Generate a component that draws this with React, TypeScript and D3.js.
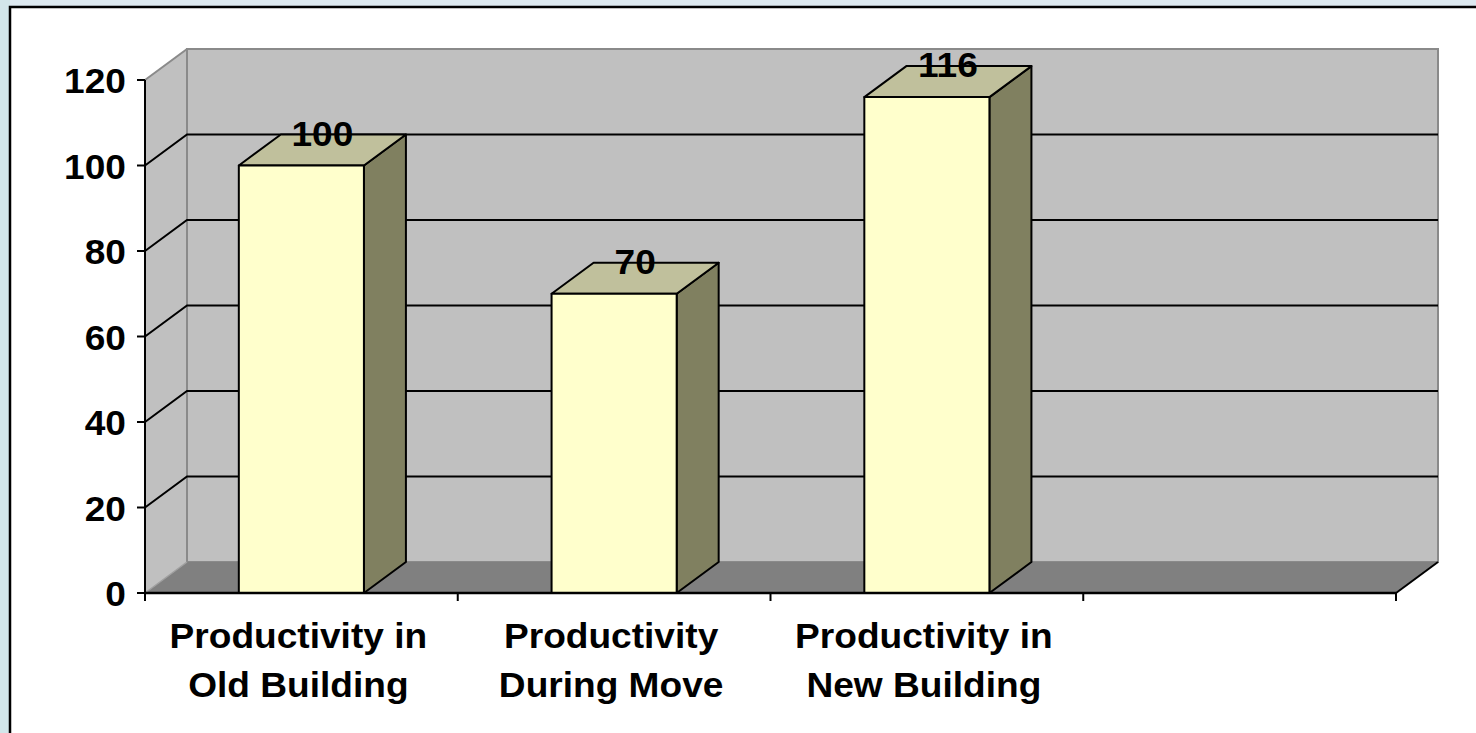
import * as d3 from 'd3';

const categories = ['Productivity in\nOld Building', 'Productivity\nDuring Move', 'Productivity in\nNew Building', ''];
const values = [100, 70, 116];
const yTicks = [0, 20, 40, 60, 80, 100, 120];

const W = 1476;
const H = 733;
const plot = { left: 145, right: 1396, top: 80, bottom: 593 };
const depth = { dx: 42, dy: -31 };
const font = '"Liberation Sans", Arial, sans-serif';
const fontSize = 35;
const stretch = 1.06; // text in the original is drawn a little wide

const colors = {
  page: '#dde9f0',
  strip: '#d2e6ea',
  wall: '#c0c0c0',
  wallEdge: '#8a8a8a',
  floor: '#808080',
  front: '#ffffcc',
  top: '#c0c09c',
  side: '#808060',
};

const pts = (p: [number, number][]) => p.map((d) => d.join(',')).join(' ');

export default function App() {
  const x = d3.scaleBand<string>().domain(categories.map((c, i) => `${i}`)).range([plot.left, plot.right]);
  const y = d3.scaleLinear().domain([0, 120]).range([plot.bottom, plot.top]);
  const { dx, dy } = depth;
  const barW = x.bandwidth() * 0.4;

  return (
    <div style={{ position: 'fixed', left: 0, top: 0 }}>
      <svg width={W} height={H} viewBox={`0 0 ${W} ${H}`} style={{ display: 'block' }}>
        <rect x={0} y={0} width={W} height={H} fill={colors.page} />
        <rect x={0} y={0} width={10} height={H} fill={colors.strip} />
        <rect x={10} y={7} width={W + 20} height={H + 20} fill="#fff" stroke="#000" strokeWidth={2.5} />

        {/* side wall */}
        <polygon
          points={pts([
            [plot.left, y(120)],
            [plot.left + dx, y(120) + dy],
            [plot.left + dx, y(0) + dy],
            [plot.left, y(0)],
          ])}
          fill={colors.wall}
        />
        {/* back wall */}
        <rect
          x={plot.left + dx}
          y={y(120) + dy}
          width={plot.right - plot.left}
          height={y(0) - y(120)}
          fill={colors.wall}
          stroke={colors.wallEdge}
          strokeWidth={2}
        />
        <line x1={plot.left} y1={y(120)} x2={plot.left + dx} y2={y(120) + dy} stroke={colors.wallEdge} strokeWidth={2} />

        {/* gridlines */}
        {yTicks
          .filter((t) => t > 0 && t < 120)
          .map((t) => (
            <polyline
              key={t}
              points={pts([
                [plot.left, y(t)],
                [plot.left + dx, y(t) + dy],
                [plot.right + dx, y(t) + dy],
              ])}
              fill="none"
              stroke="#000"
              strokeWidth={2}
            />
          ))}

        {/* floor */}
        <polygon
          points={pts([
            [plot.left, y(0)],
            [plot.left + dx, y(0) + dy],
            [plot.right + dx, y(0) + dy],
            [plot.right, y(0)],
          ])}
          fill={colors.floor}
        />
        <line x1={plot.left} y1={y(0)} x2={plot.left + dx} y2={y(0) + dy} stroke="#a0a0a0" strokeWidth={1.5} />
        <line x1={plot.right} y1={y(0)} x2={plot.right + dx} y2={y(0) + dy} stroke="#000" strokeWidth={2} />

        {/* bars */}
        {values.map((v, i) => {
          const cx = (x(`${i}`) ?? 0) + x.bandwidth() / 2;
          const x0 = cx - barW / 2;
          const x1 = cx + barW / 2;
          const yt = y(v);
          const yb = y(0);
          return (
            <g key={i} stroke="#000" strokeWidth={2} strokeLinejoin="round">
              <polygon points={pts([[x1, yb], [x1 + dx, yb + dy], [x1 + dx, yt + dy], [x1, yt]])} fill={colors.side} />
              <polygon points={pts([[x0, yt], [x0 + dx, yt + dy], [x1 + dx, yt + dy], [x1, yt]])} fill={colors.top} />
              <rect x={x0} y={yt} width={barW} height={yb - yt} fill={colors.front} />
            </g>
          );
        })}

        {/* data labels */}
        {values.map((v, i) => {
          const cx = (x(`${i}`) ?? 0) + x.bandwidth() / 2;
          return (
            <text
              key={i}
              transform={`translate(${cx + dx / 2},${y(v) - 20}) scale(${stretch},1)`}
              textAnchor="middle"
              fontFamily={font}
              fontWeight="bold"
              fontSize={fontSize}
              fill="#000"
            >
              {v}
            </text>
          );
        })}

        {/* y axis */}
        <line x1={plot.left} y1={y(0)} x2={plot.left} y2={y(120)} stroke="#000" strokeWidth={2} />
        {yTicks.map((t) => (
          <g key={t}>
            <line x1={plot.left - 8} y1={y(t)} x2={plot.left} y2={y(t)} stroke="#000" strokeWidth={2} />
            <text
              transform={`translate(${plot.left - 19},${y(t) + 13}) scale(${stretch},1)`}
              textAnchor="end"
              fontFamily={font}
              fontWeight="bold"
              fontSize={fontSize}
              fill="#000"
            >
              {t}
            </text>
          </g>
        ))}

        {/* x axis */}
        <line x1={plot.left} y1={y(0)} x2={plot.right} y2={y(0)} stroke="#000" strokeWidth={2.5} />
        {[...categories.map((c, i) => x(`${i}`) ?? 0), plot.right].map((px, i) => (
          <line key={i} x1={px} y1={y(0)} x2={px} y2={y(0) + 8} stroke="#000" strokeWidth={2} />
        ))}
        {categories.map((c, i) => {
          const cx = (x(`${i}`) ?? 0) + x.bandwidth() / 2;
          return c
            .split('\n')
            .filter((l) => l)
            .map((line, j) => (
              <text
                key={`${i}-${j}`}
                transform={`translate(${cx - 3},${648 + j * 49}) scale(${stretch},1)`}
                textAnchor="middle"
                fontFamily={font}
                fontWeight="bold"
                fontSize={fontSize}
                fill="#000"
              >
                {line}
              </text>
            ));
        })}
      </svg>
    </div>
  );
}
